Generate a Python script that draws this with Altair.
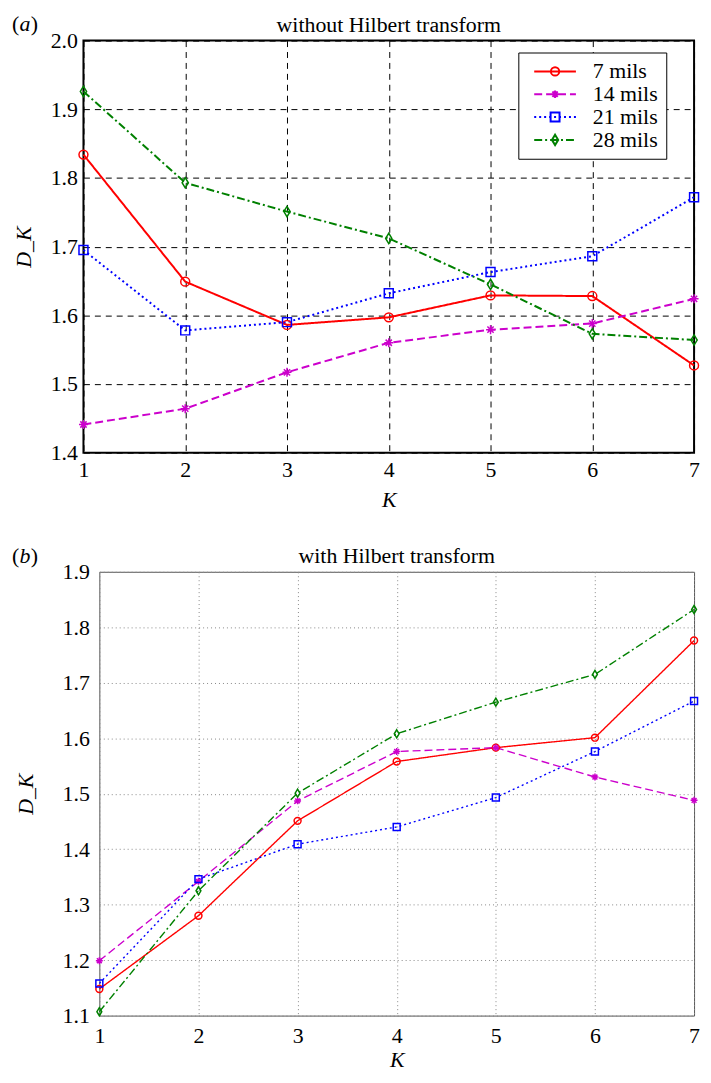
import altair as alt
import pandas as pd

# ---------------- data ----------------
K = [1, 2, 3, 4, 5, 6, 7]
series = ["7 mils", "14 mils", "21 mils", "28 mils"]
colors = ["#FF0000", "#CC00CC", "#0000FF", "#008000"]

top_7 = [1.834, 1.649, 1.586, 1.597, 1.629, 1.628, 1.527]
top_14 = [1.441, 1.464, 1.517, 1.560, 1.579, 1.588, 1.624]
top_21 = [1.695, 1.578, 1.590, 1.632, 1.663, 1.686, 1.772]
top_28 = [1.926, 1.793, 1.751, 1.712, 1.645, 1.573, 1.564]

bot_7 = [1.148, 1.280, 1.451, 1.558, 1.583, 1.601, 1.776]
bot_14 = [1.199, 1.342, 1.487, 1.576, 1.583, 1.530, 1.488]
bot_21 = [1.158, 1.346, 1.409, 1.440, 1.493, 1.576, 1.667]
bot_28 = [1.107, 1.325, 1.501, 1.608, 1.665, 1.715, 1.832]

top_ticks = [1.4, 1.5, 1.6, 1.7, 1.8, 1.9, 2.0]
bot_ticks = [1.1, 1.2, 1.3, 1.4, 1.5, 1.6, 1.7, 1.8, 1.9]

titles = ["without Hilbert transform", "with Hilbert transform"]
letters = ["a", "b"]

FONT = "Liberation Serif"
FS = 22


def long_df(vals):
    rows = []
    for s, v in zip(series, vals):
        for k, d in zip(K, v):
            rows.append({"K": k, "D": d, "series": s})
    return pd.DataFrame(rows)


# ---------------- marker shapes (unit paths) ----------------
def circle(r, cx=0.0):
    return (f"M{cx - r:.3f},0A{r},{r} 0 1,0 {cx + r:.3f},0"
            f"A{r},{r} 0 1,0 {cx - r:.3f},0Z")


def asterisk(r, cx=0.0):
    d = r * 0.7
    return (f"M{cx - r:.3f},0L{cx + r:.3f},0M{cx:.3f},{-r}L{cx:.3f},{r}"
            f"M{cx - d:.3f},{-d:.3f}L{cx + d:.3f},{d:.3f}"
            f"M{cx - d:.3f},{d:.3f}L{cx + d:.3f},{-d:.3f}")


def square(r, cx=0.0):
    return (f"M{cx - r:.3f},{-r}L{cx + r:.3f},{-r}L{cx + r:.3f},{r}"
            f"L{cx - r:.3f},{r}Z")


def diamond(r, cx=0.0):
    w = r * 0.7
    h = r * 1.15
    return (f"M{cx:.3f},{-h:.3f}L{cx + w:.3f},0L{cx:.3f},{h:.3f}"
            f"L{cx - w:.3f},0Z")


def markers(r):
    return [circle(r), asterisk(r), square(r), diamond(r)]


def line_path(pattern, cx, L=2.1):
    parts = []
    x = -L
    i = 0
    while x < L - 1e-9:
        d = pattern[i % len(pattern)]
        x2 = min(x + d, L)
        if i % 2 == 0:
            parts.append(f"M{cx + x:.2f},0L{cx + x2:.2f},0")
        x = x2
        i += 1
    return "".join(parts)


# legend symbols: line sample + marker, drawn right of the symbol anchor
LC = 1.8
legend_patterns = [[4.2, 0.1], [0.8, 0.4], [0.2, 0.3], [0.8, 0.3, 0.2, 0.3]]
legend_marks = [circle(0.42, LC), asterisk(0.38, LC), square(0.45, LC),
                diamond(0.45, LC)]
legend_paths = [line_path(p, LC) + m
                for p, m in zip(legend_patterns, legend_marks)]


def spacer():
    return alt.Chart(pd.DataFrame({"v": [0]})).mark_rule(
        strokeWidth=0, opacity=0).encode(
        x=alt.value(0), x2=alt.value(0), y=alt.value(0), y2=alt.value(0)
    ).properties(width=1, height=1,
                 view=alt.ViewBackground(stroke="transparent"))


def panel(vals, ticks, title, letter, w, h, grid_dash, grid_color, frame_color,
          frame_w, line_w, dashes, msize, x_lab_pad, x_title_pad, y_lab_pad,
          y_title_pad, letter_x, letter_y, title_y, with_legend):
    df = long_df(vals)
    xax = alt.Axis(values=K, format="d", title="K", titleFontStyle="italic",
                   titleFont=FONT, titleFontSize=FS, titleFontWeight="normal",
                   titleColor="black", titlePadding=x_title_pad,
                   labelFont=FONT, labelFontSize=FS, labelColor="black",
                   labelPadding=x_lab_pad, labelFlush=False, labelOverlap=False,
                   grid=True, gridDash=grid_dash, gridColor=grid_color,
                   gridOpacity=1, gridWidth=1, domain=False, ticks=False)
    yax = alt.Axis(values=ticks, format=".1f", title="D_K",
                   titleFontStyle="italic", titleFont=FONT, titleFontSize=FS,
                   titleFontWeight="normal", titleColor="black",
                   titlePadding=y_title_pad,
                   labelFont=FONT, labelFontSize=FS, labelColor="black",
                   labelPadding=y_lab_pad, labelFlush=False, labelOverlap=False,
                   grid=True, gridDash=grid_dash, gridColor=grid_color,
                   gridOpacity=1, gridWidth=1, domain=False, ticks=False)
    x = alt.X("K:Q", scale=alt.Scale(domain=[1, 7], nice=False), axis=xax)
    y = alt.Y("D:Q", scale=alt.Scale(domain=[ticks[0], ticks[-1]], nice=False,
                                     zero=False), axis=yax)
    col = alt.Color("series:N", scale=alt.Scale(domain=series, range=colors),
                    legend=None)
    lines = alt.Chart(df).mark_line(strokeWidth=line_w, clip=False).encode(
        x=x, y=y, color=col,
        strokeDash=alt.StrokeDash("series:N",
                                  scale=alt.Scale(domain=series, range=dashes),
                                  legend=None),
    )
    pts = alt.Chart(df).mark_point(filled=False, size=msize, strokeWidth=1.5,
                                   opacity=1, clip=False).encode(
        x=x, y=y, color=col,
        shape=alt.Shape("series:N",
                        scale=alt.Scale(domain=series, range=markers(1)),
                        legend=None),
    )
    lab_df = pd.DataFrame({"t": [letter], "title": [title]})
    base_txt = alt.Chart(lab_df)
    p1 = base_txt.mark_text(text="(", font=FONT, fontSize=FS, align="left",
                            baseline="middle", color="black").encode(
        x=alt.value(letter_x), y=alt.value(letter_y))
    p2 = base_txt.mark_text(font=FONT, fontSize=FS, align="left",
                            baseline="middle", fontStyle="italic",
                            color="black").encode(
        x=alt.value(letter_x + 7.5), y=alt.value(letter_y), text="t:N")
    p3 = base_txt.mark_text(text=")", font=FONT, fontSize=FS, align="left",
                            baseline="middle", color="black").encode(
        x=alt.value(letter_x + 19), y=alt.value(letter_y))
    ttl = base_txt.mark_text(font=FONT, fontSize=FS, align="center",
                             baseline="middle", color="black").encode(
        x=alt.value(w / 2), y=alt.value(title_y), text="title:N")
    layers = [lines, pts, p1, p2, p3, ttl]
    if with_legend:
        leg = alt.Legend(orient="none", legendX=438, legendY=12, title=None,
                         labelFont=FONT, labelFontSize=FS, labelColor="black",
                         labelAlign="left",
                         symbolSize=400, symbolStrokeWidth=2,
                         strokeColor="black", fillColor="white",
                         padding=8, labelOffset=45, rowPadding=1)
        lg = alt.Chart(df).transform_filter("datum.K < 0").mark_point(
            filled=False, opacity=1).encode(
            color=alt.Color("series:N",
                            scale=alt.Scale(domain=series, range=colors),
                            legend=leg),
            shape=alt.Shape("series:N",
                            scale=alt.Scale(domain=series, range=legend_paths),
                            legend=leg),
        )
        layers.append(lg)
    ch = alt.layer(*layers).properties(
        width=w, height=h,
        view=alt.ViewBackground(stroke=frame_color, strokeWidth=frame_w),
    )
    if with_legend:
        ch = ch.resolve_scale(color="independent", shape="independent")
    return ch


top = panel([top_7, top_14, top_21, top_28], top_ticks,
            titles[0], letters[0], 615, 415,
            [6, 5], "black", "black", 2, 2,
            [[1, 0], [8, 4], [2, 3], [8, 3, 2, 3]], 81,
            7, 9, 6, 15, -72, -17, -16, True)
bottom = panel([bot_7, bot_14, bot_21, bot_28], bot_ticks,
               titles[1], letters[1], 599, 447,
               [1, 3], "#888888", "#555555", 1, 1.4,
               [[1, 0], [10, 4], [1.5, 3], [9, 4, 2, 4]], 49,
               10, 3, 10, 25, -88, -16, -16, False)

chart = alt.vconcat(
    alt.hconcat(spacer(), top, spacing=0),
    alt.hconcat(spacer(), bottom, spacing=0),
    spacing=33,
).properties(padding=0).configure(font=FONT)

chart.save("out.html", embed_options={"renderer": "svg", "actions": False})
